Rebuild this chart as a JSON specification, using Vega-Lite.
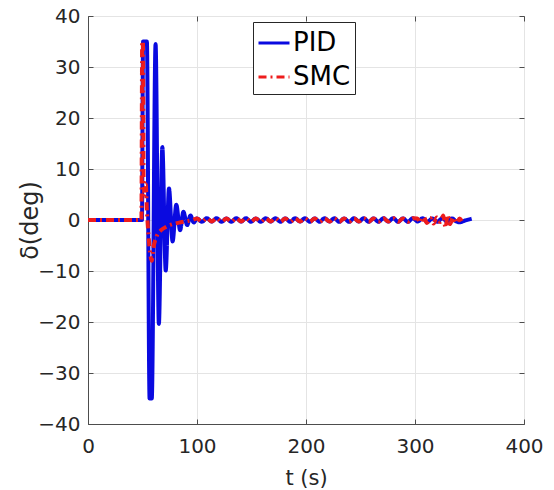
{
  "$schema": "https://vega.github.io/schema/vega-lite/v6.json",
  "width": 436,
  "height": 408,
  "autosize": {"type": "none"},
  "padding": {"left": 88, "top": 16, "right": 30, "bottom": 66},
  "background": "white",
  "config": {
    "view": {"stroke": "#4d4d4d", "strokeWidth": 1},
    "font": "DejaVu Sans",
    "axis": {
      "labelFont": "DejaVu Sans",
      "titleFont": "DejaVu Sans",
      "labelColor": "#262626",
      "titleColor": "#262626",
      "labelFontSize": 20,
      "labelFlush": false,
      "domainColor": "#4d4d4d",
      "tickColor": "#4d4d4d",
      "gridColor": "#e4e4e4",
      "gridWidth": 1
    }
  },
  "data": {
    "values": [
      {"s": "PID", "t": 0, "v": 0},
      {"s": "PID", "t": 49.5, "v": 0},
      {"s": "PID", "t": 50.5, "v": 35},
      {"s": "PID", "t": 54, "v": 35},
      {"s": "PID", "t": 56.5, "v": -35},
      {"s": "PID", "t": 58.5, "v": -35},
      {"s": "PID", "t": 62, "v": 34.5},
      {"s": "PID", "t": 65, "v": -20.4},
      {"s": "PID", "t": 68.2, "v": 14.3},
      {"s": "PID", "t": 71.3, "v": -9.9},
      {"s": "PID", "t": 74.3, "v": 6.2},
      {"s": "PID", "t": 77.6, "v": -4.2},
      {"s": "PID", "t": 81, "v": 3},
      {"s": "PID", "t": 84.5, "v": -2},
      {"s": "PID", "t": 87.5, "v": 1.6},
      {"s": "PID", "t": 91, "v": -1},
      {"s": "PID", "t": 94, "v": 0.9},
      {"s": "PID", "t": 97, "v": -0.5},
      {"s": "PID", "t": 100, "v": 0.3},
      {"s": "PID", "t": 104.5, "v": -0.35},
      {"s": "PID", "t": 109, "v": 0.35},
      {"s": "PID", "t": 113.5, "v": -0.3},
      {"s": "PID", "t": 118, "v": 0.35},
      {"s": "PID", "t": 122.5, "v": -0.35},
      {"s": "PID", "t": 127, "v": 0.3},
      {"s": "PID", "t": 131.5, "v": -0.35},
      {"s": "PID", "t": 136, "v": 0.35},
      {"s": "PID", "t": 140.5, "v": -0.3},
      {"s": "PID", "t": 145, "v": 0.35},
      {"s": "PID", "t": 149.5, "v": -0.35},
      {"s": "PID", "t": 154, "v": 0.3},
      {"s": "PID", "t": 158.5, "v": -0.35},
      {"s": "PID", "t": 163, "v": 0.35},
      {"s": "PID", "t": 167.5, "v": -0.3},
      {"s": "PID", "t": 172, "v": 0.35},
      {"s": "PID", "t": 176.5, "v": -0.35},
      {"s": "PID", "t": 181, "v": 0.3},
      {"s": "PID", "t": 185.5, "v": -0.35},
      {"s": "PID", "t": 190, "v": 0.35},
      {"s": "PID", "t": 194.5, "v": -0.3},
      {"s": "PID", "t": 199, "v": 0.35},
      {"s": "PID", "t": 203.5, "v": -0.35},
      {"s": "PID", "t": 208, "v": 0.3},
      {"s": "PID", "t": 212.5, "v": -0.35},
      {"s": "PID", "t": 217, "v": 0.35},
      {"s": "PID", "t": 221.5, "v": -0.3},
      {"s": "PID", "t": 226, "v": 0.35},
      {"s": "PID", "t": 230.5, "v": -0.35},
      {"s": "PID", "t": 235, "v": 0.3},
      {"s": "PID", "t": 239.5, "v": -0.35},
      {"s": "PID", "t": 244, "v": 0.35},
      {"s": "PID", "t": 248.5, "v": -0.3},
      {"s": "PID", "t": 253, "v": 0.35},
      {"s": "PID", "t": 257.5, "v": -0.35},
      {"s": "PID", "t": 262, "v": 0.3},
      {"s": "PID", "t": 266.5, "v": -0.35},
      {"s": "PID", "t": 271, "v": 0.35},
      {"s": "PID", "t": 275.5, "v": -0.3},
      {"s": "PID", "t": 280, "v": 0.35},
      {"s": "PID", "t": 284.5, "v": -0.35},
      {"s": "PID", "t": 289, "v": 0.3},
      {"s": "PID", "t": 293.5, "v": -0.35},
      {"s": "PID", "t": 298, "v": 0.35},
      {"s": "PID", "t": 302.5, "v": -0.3},
      {"s": "PID", "t": 307, "v": 0.35},
      {"s": "PID", "t": 311.5, "v": -0.35},
      {"s": "PID", "t": 316, "v": 0.3},
      {"s": "PID", "t": 320.5, "v": -0.35},
      {"s": "PID", "t": 325, "v": 0.35},
      {"s": "PID", "t": 329.5, "v": -0.3},
      {"s": "PID", "t": 334, "v": 0.3},
      {"s": "PID", "t": 338, "v": -0.3},
      {"s": "PID", "t": 341, "v": -0.45},
      {"s": "PID", "t": 346, "v": -0.1},
      {"s": "PID", "t": 352, "v": 0.25},
      {"s": "SMC", "t": 0, "v": 0},
      {"s": "SMC", "t": 49, "v": 0},
      {"s": "SMC", "t": 49.7, "v": 35},
      {"s": "SMC", "t": 50.4, "v": 35},
      {"s": "SMC", "t": 51, "v": 8},
      {"s": "SMC", "t": 52, "v": 5},
      {"s": "SMC", "t": 53, "v": 7},
      {"s": "SMC", "t": 54, "v": 2},
      {"s": "SMC", "t": 55.5, "v": -3},
      {"s": "SMC", "t": 57, "v": -6.5},
      {"s": "SMC", "t": 58.5, "v": -8},
      {"s": "SMC", "t": 60, "v": -5.5},
      {"s": "SMC", "t": 63, "v": -3.2},
      {"s": "SMC", "t": 67, "v": -2},
      {"s": "SMC", "t": 72, "v": -1.3},
      {"s": "SMC", "t": 78, "v": -0.8},
      {"s": "SMC", "t": 85, "v": -0.45},
      {"s": "SMC", "t": 91, "v": -0.2},
      {"s": "SMC", "t": 96, "v": 0},
      {"s": "SMC", "t": 100, "v": 0.3},
      {"s": "SMC", "t": 104.5, "v": -0.35},
      {"s": "SMC", "t": 109, "v": 0.35},
      {"s": "SMC", "t": 113.5, "v": -0.3},
      {"s": "SMC", "t": 118, "v": 0.35},
      {"s": "SMC", "t": 122.5, "v": -0.35},
      {"s": "SMC", "t": 127, "v": 0.3},
      {"s": "SMC", "t": 131.5, "v": -0.35},
      {"s": "SMC", "t": 136, "v": 0.35},
      {"s": "SMC", "t": 140.5, "v": -0.3},
      {"s": "SMC", "t": 145, "v": 0.35},
      {"s": "SMC", "t": 149.5, "v": -0.35},
      {"s": "SMC", "t": 154, "v": 0.3},
      {"s": "SMC", "t": 158.5, "v": -0.35},
      {"s": "SMC", "t": 163, "v": 0.35},
      {"s": "SMC", "t": 167.5, "v": -0.3},
      {"s": "SMC", "t": 172, "v": 0.35},
      {"s": "SMC", "t": 176.5, "v": -0.35},
      {"s": "SMC", "t": 181, "v": 0.3},
      {"s": "SMC", "t": 185.5, "v": -0.35},
      {"s": "SMC", "t": 190, "v": 0.35},
      {"s": "SMC", "t": 194.5, "v": -0.3},
      {"s": "SMC", "t": 199, "v": 0.35},
      {"s": "SMC", "t": 203.5, "v": -0.35},
      {"s": "SMC", "t": 208, "v": 0.3},
      {"s": "SMC", "t": 212.5, "v": -0.35},
      {"s": "SMC", "t": 217, "v": 0.35},
      {"s": "SMC", "t": 221.5, "v": -0.3},
      {"s": "SMC", "t": 226, "v": 0.35},
      {"s": "SMC", "t": 230.5, "v": -0.35},
      {"s": "SMC", "t": 235, "v": 0.3},
      {"s": "SMC", "t": 239.5, "v": -0.35},
      {"s": "SMC", "t": 244, "v": 0.35},
      {"s": "SMC", "t": 248.5, "v": -0.3},
      {"s": "SMC", "t": 253, "v": 0.35},
      {"s": "SMC", "t": 257.5, "v": -0.35},
      {"s": "SMC", "t": 262, "v": 0.3},
      {"s": "SMC", "t": 266.5, "v": -0.35},
      {"s": "SMC", "t": 271, "v": 0.35},
      {"s": "SMC", "t": 275.5, "v": -0.3},
      {"s": "SMC", "t": 280, "v": 0.35},
      {"s": "SMC", "t": 284.5, "v": -0.35},
      {"s": "SMC", "t": 289, "v": 0.3},
      {"s": "SMC", "t": 293.5, "v": -0.35},
      {"s": "SMC", "t": 298, "v": 0.35},
      {"s": "SMC", "t": 302, "v": 0.3},
      {"s": "SMC", "t": 305, "v": -0.5},
      {"s": "SMC", "t": 308, "v": 0.6},
      {"s": "SMC", "t": 311, "v": -0.6},
      {"s": "SMC", "t": 314, "v": 0.4},
      {"s": "SMC", "t": 317, "v": -0.7},
      {"s": "SMC", "t": 320, "v": 0.5},
      {"s": "SMC", "t": 323, "v": -0.4},
      {"s": "SMC", "t": 326, "v": 0.9},
      {"s": "SMC", "t": 328, "v": -1.5},
      {"s": "SMC", "t": 330, "v": 1.0},
      {"s": "SMC", "t": 332, "v": -0.8},
      {"s": "SMC", "t": 335, "v": 0.5},
      {"s": "SMC", "t": 338, "v": -0.6},
      {"s": "SMC", "t": 341, "v": 0.3},
      {"s": "SMC", "t": 343, "v": -0.2}
    ]
  },
  "resolve": {"axis": {"x": "independent", "y": "independent"}},
  "layer": [
    {
      "mark": {"type": "line", "strokeWidth": 4, "clip": true, "interpolate": "monotone"},
      "encoding": {
        "x": {
          "field": "t", "type": "quantitative",
          "scale": {"domain": [0, 400], "nice": false},
          "axis": {
            "values": [0, 100, 200, 300, 400],
            "grid": true,
            "tickSize": -5,
            "labelPadding": 17,
            "title": "t (s)",
            "titleFontSize": 21,
            "titleFontWeight": "normal",
            "titleX": 218,
            "titleY": 54,
            "titleBaseline": "middle"
          }
        },
        "y": {
          "field": "v", "type": "quantitative",
          "scale": {"domain": [-40, 40], "nice": false},
          "axis": {
            "values": [-40, -30, -20, -10, 0, 10, 20, 30, 40],
            "grid": true,
            "tickSize": -5,
            "labelPadding": 13,
            "title": "δ(deg)",
            "titleFontSize": 24,
            "titleFontWeight": "normal",
            "titleAngle": -90,
            "titleX": -58,
            "titleY": 204,
            "titleAlign": "center",
            "titleBaseline": "middle"
          }
        },
        "color": {
          "field": "s", "type": "nominal",
          "scale": {"domain": ["PID", "SMC"], "range": ["#0a0ae0", "#ee1c1c"]},
          "legend": {
            "title": null,
            "orient": "none",
            "legendX": 165,
            "legendY": 6,
            "padding": 4,
            "strokeColor": "#262626",
            "fillColor": "white",
            "symbolType": "stroke",
            "symbolSize": 961,
            "symbolStrokeWidth": 3,
            "labelFontSize": 26,
            "labelFont": "DejaVu Sans",
            "labelColor": "#000000",
            "labelOffset": 2,
            "rowPadding": 4
          }
        },
        "strokeDash": {
          "field": "s", "type": "nominal",
          "scale": {"domain": ["PID", "SMC"], "range": [[1, 0], [8, 4, 2, 4]]},
          "legend": null
        },
        "order": {"field": "t", "type": "quantitative"}
      }
    },
    {
      "mark": {"type": "line", "opacity": 0},
      "encoding": {
        "x": {
          "field": "t", "type": "quantitative",
          "axis": {
            "orient": "top",
            "values": [0, 100, 200, 300, 400],
            "grid": false,
            "labels": false,
            "domain": false,
            "tickSize": -5,
            "title": null
          }
        },
        "y": {
          "field": "v", "type": "quantitative",
          "axis": {
            "orient": "right",
            "values": [-40, -30, -20, -10, 0, 10, 20, 30, 40],
            "grid": false,
            "labels": false,
            "domain": false,
            "tickSize": -5,
            "title": null
          }
        },
        "detail": {"field": "s", "type": "nominal"}
      }
    }
  ]
}
